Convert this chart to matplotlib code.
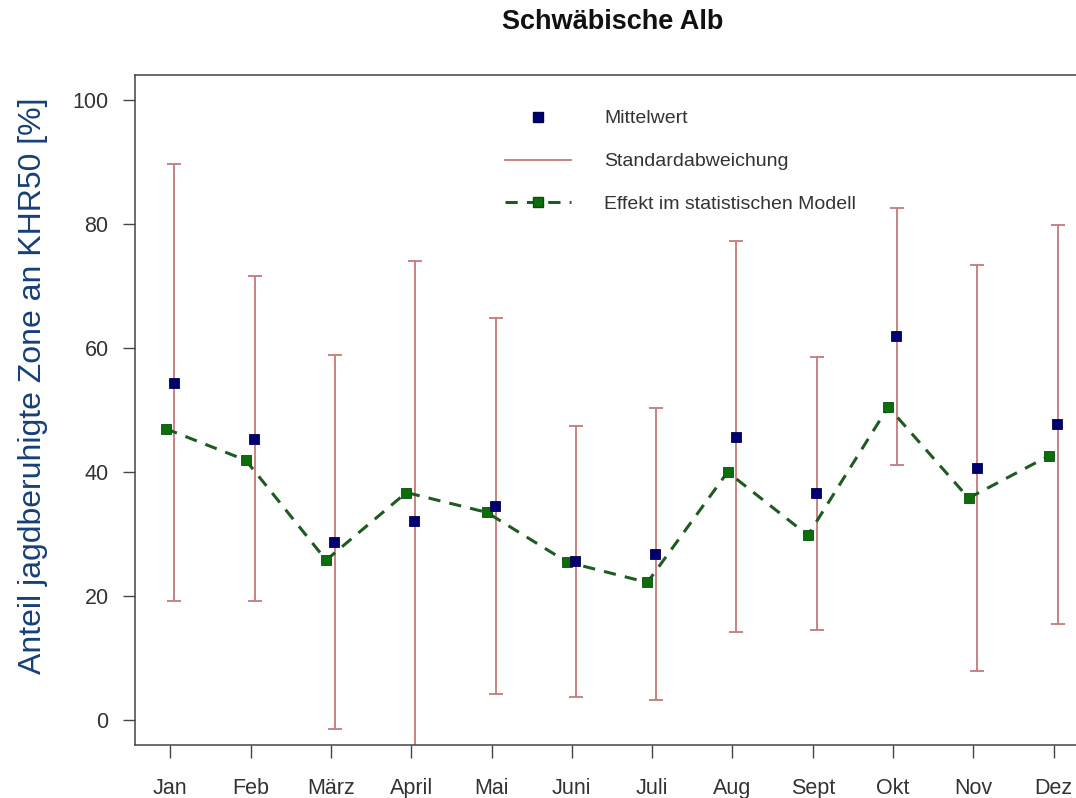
import matplotlib
matplotlib.use("Agg")
import matplotlib.pyplot as plt
from matplotlib.lines import Line2D
import numpy as np

plt.rcParams['font.family'] = ['Liberation Sans', 'DejaVu Sans']

months = ["Jan", "Feb", "März", "April", "Mai", "Juni", "Juli", "Aug", "Sept", "Okt", "Nov", "Dez"]
mittelwert = [54.4, 45.4, 28.7, 32.1, 34.6, 25.6, 26.8, 45.7, 36.6, 61.9, 40.7, 47.7]
standardabweichung = [35.2, 26.2, 30.2, 41.9, 30.3, 21.8, 23.6, 31.5, 22.0, 20.7, 32.7, 32.2]
modell_effekt = [47.0, 41.9, 25.8, 36.7, 33.5, 25.5, 22.2, 40.0, 29.8, 50.5, 35.8, 42.6]
y_ticks = [0, 20, 40, 60, 80, 100]

W, H = 1076, 798
fig = plt.figure(figsize=(W / 100, H / 100), dpi=100)
left, right, bottom, top = 135, 1089, 745, 75
ax = fig.add_axes([left / W, (H - bottom) / H, (right - left) / W, (bottom - top) / H])

x = np.arange(1, len(months) + 1)
err_col = '#c47a7a'
blue = '#000070'
green_line = '#1f5a23'
green_mk = '#0b6e0b'

ax.errorbar(x + 0.05, mittelwert, yerr=standardabweichung, fmt='none',
            ecolor=err_col, elinewidth=1.3, capsize=5, capthick=1.3, zorder=2)
ax.plot(x - 0.06, modell_effekt, color=green_line, lw=2.2, dashes=(4, 3),
        marker='s', ms=7, mfc=green_mk, mec='#0a4d0a', mew=0.6, zorder=3)
ax.plot(x + 0.04, mittelwert, ls='none', marker='s', ms=7, mfc=blue, mec='#000050',
        mew=0.6, zorder=4)

ax.set_xlim(0.56, 12.44)
ax.set_ylim(-4, 104)
ax.set_xticks(x)
ax.set_xticklabels(months)
ax.set_yticks(y_ticks)
ax.tick_params(axis='both', direction='out', width=1, colors='#444444',
               labelcolor='#333333', labelsize=15.5)
ax.tick_params(axis='x', length=9.5, pad=14)
ax.tick_params(axis='y', length=9, pad=10)
for s in ['left', 'bottom', 'top']:
    ax.spines[s].set_color('#444444')
    ax.spines[s].set_linewidth(1.1)
ax.spines['right'].set_visible(False)

handles = [
    Line2D([], [], ls='none', marker='s', ms=7, mfc=blue, mec='#000050'),
    Line2D([], [], color=err_col, lw=1.3),
    Line2D([], [], color=green_line, lw=2.2, dashes=(4, 3), marker='s', ms=7,
           mfc=green_mk, mec='#0a4d0a'),
]
labels = ["Mittelwert", "Standardabweichung", "Effekt im statistischen Modell"]
leg = ax.legend(handles, labels, loc='upper left', bbox_to_anchor=(0.388, 0.948),
                frameon=False, fontsize=14, handlelength=3.4, handletextpad=1.7,
                labelspacing=1.3, borderpad=0, borderaxespad=0)
for t in leg.get_texts():
    t.set_color('#333333')

fig.text(613 / W, 1 - 22 / H, "Schwäbische Alb", ha='center', va='center',
         fontsize=19.5, fontweight='bold', color='#111111')
fig.text(33 / W, 1 - 386 / H, "Anteil jagdberuhigte Zone an KHR50 [%]", rotation=90,
         ha='center', va='center', fontsize=23, color='#173f78')

fig.savefig("out.png", dpi=100)
